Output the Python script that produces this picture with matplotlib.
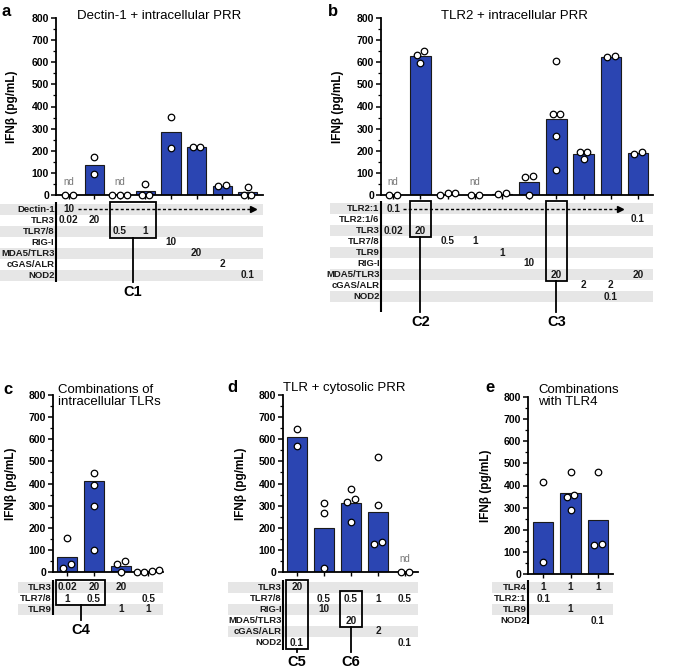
import numpy as np
import matplotlib
matplotlib.use("Agg")
import matplotlib.pyplot as plt
from matplotlib.patches import Rectangle
from matplotlib.transforms import blended_transform_factory

# ---------------- data ----------------
# Panel a: Dectin-1 + intracellular PRR
a_rows = ["Dectin-1", "TLR3", "TLR7/8", "RIG-I", "MDA5/TLR3", "cGAS/ALR", "NOD2"]
a_table = [
    ["10", "", "", "", "", "", "", ""],
    ["0.02", "20", "", "", "", "", "", ""],
    ["", "", "0.5", "1", "", "", "", ""],
    ["", "", "", "", "10", "", "", ""],
    ["", "", "", "", "", "20", "", ""],
    ["", "", "", "", "", "", "2", ""],
    ["", "", "", "", "", "", "", "0.1"],
]
a_bars = [0, 136, 0, 16, 283, 218, 42, 12]
a_points = [[0, 0], [170, 95], [0, 0, 0], [48, 0, 0], [354, 211], [218, 218], [41, 45], [35, 0, 0]]
a_nd = [True, False, True, False, False, False, False, False]

# Panel b: TLR2 + intracellular PRR
b_rows = ["TLR2:1", "TLR2:1/6", "TLR3", "TLR7/8", "TLR9", "RIG-I", "MDA5/TLR3", "cGAS/ALR", "NOD2"]
b_table = [
    ["0.1", "", "", "", "", "", "", "", "", ""],
    ["", "", "", "", "", "", "", "", "", "0.1"],
    ["0.02", "20", "", "", "", "", "", "", "", ""],
    ["", "", "0.5", "1", "", "", "", "", "", ""],
    ["", "", "", "", "1", "", "", "", "", ""],
    ["", "", "", "", "", "10", "", "", "", ""],
    ["", "", "", "", "", "", "20", "", "", "20"],
    ["", "", "", "", "", "", "", "2", "2", ""],
    ["", "", "", "", "", "", "", "", "0.1", ""],
]
b_bars = [0, 627, 5, 0, 5, 57, 343, 184, 625, 188]
b_points = [[0, 0], [652, 632, 598], [7, 0, 9], [0, 0], [3, 8], [87, 83, 0],
            [604, 364, 367, 265, 113], [196, 196, 161], [622, 628], [184, 193]]
b_nd = [True, False, False, True, False, False, False, False, False, False]

# Panel c: Combinations of intracellular TLRs
c_rows = ["TLR3", "TLR7/8", "TLR9"]
c_table = [
    ["0.02", "20", "20", ""],
    ["1", "0.5", "", "0.5"],
    ["", "", "1", "1"],
]
c_bars = [69, 410, 29, 4]
c_points = [[152, 20, 36], [448, 395, 298, 99], [50, 36, 0], [5, 0, 2, 8]]
c_nd = [False, False, False, False]

# Panel d: TLR + cytosolic PRR
d_rows = ["TLR3", "TLR7/8", "RIG-I", "MDA5/TLR3", "cGAS/ALR", "NOD2"]
d_table = [
    ["20", "", "", "", ""],
    ["", "0.5", "0.5", "1", "0.5"],
    ["", "10", "", "", ""],
    ["", "", "20", "", ""],
    ["", "", "", "2", ""],
    ["0.1", "", "", "", "0.1"],
]
d_bars = [610, 200, 311, 271, 0]
d_points = [[648, 570], [314, 265, 17], [373, 329, 317, 227], [520, 305, 125, 134], [0, 0]]
d_nd = [False, False, False, False, True]

# Panel e: Combinations with TLR4
e_rows = ["TLR4", "TLR2:1", "TLR9", "NOD2"]
e_table = [
    ["1", "1", "1"],
    ["0.1", "", ""],
    ["", "1", ""],
    ["", "", "0.1"],
]
e_bars = [237, 365, 242]
e_points = [[417, 53], [459, 357, 347, 290], [459, 129, 135]]
e_nd = [False, False, False]

yticks = [0, 100, 200, 300, 400, 500, 600, 700, 800]

# ---------------- style ----------------
W, H = 691, 670
BLUE = "#2B45B2"
SHADE = "#E6E6E6"
NARROW = ["Liberation Sans Narrow", "Liberation Sans", "DejaVu Sans"]
SANS = ["Liberation Sans", "DejaVu Sans"]

fig = plt.figure(figsize=(W / 100, H / 100), dpi=100)


def px_axes(x0, x1, ytop, ybot):
    return fig.add_axes([x0 / W, 1 - ybot / H, (x1 - x0) / W, (ybot - ytop) / H])


def swarm_offsets(vals, px_per_unit, col_px, diam=6.5, step_px=7.5):
    vals = np.asarray(vals, dtype=float)
    order = np.argsort(vals)
    offs = np.zeros(len(vals))
    clusters = []
    cur = [order[0]]
    for i in order[1:]:
        if abs(vals[i] - vals[cur[-1]]) * px_per_unit < diam:
            cur.append(i)
        else:
            clusters.append(cur)
            cur = [i]
    clusters.append(cur)
    for cl in clusters:
        k = len(cl)
        for j, idx in enumerate(cl):
            offs[idx] = (j - (k - 1) / 2) * step_px / col_px
    return offs


def panel(cfg, bars, points, nd, rows, table):
    x0, x1, ytop, ybot = cfg["ax"]
    ax = px_axes(x0, x1, ytop, ybot)
    ncol = len(bars)
    xs = np.arange(ncol)
    ax.set_xlim(*cfg["xlim"])
    ax.set_ylim(0, 800)
    ax.bar(xs, bars, width=0.75, color=BLUE, edgecolor="#1a1a1a", linewidth=0.8, zorder=2)
    col_px = (x1 - x0) / (cfg["xlim"][1] - cfg["xlim"][0])
    ppu = (ybot - ytop) / 800
    for i, pts in enumerate(points):
        offs = swarm_offsets(pts, ppu, col_px)
        ax.scatter(xs[i] + offs, pts, s=22, facecolor="white", edgecolor="black",
                   linewidth=0.9, zorder=4, clip_on=False)
        if nd[i]:
            ax.text(xs[i], 58, "nd", ha="center", va="center", fontsize=7,
                    color="#777777", family=NARROW)
    for s in ["top", "right"]:
        ax.spines[s].set_visible(False)
    ax.spines["left"].set_linewidth(1.3)
    ax.spines["bottom"].set_linewidth(1.3)
    ax.set_yticks(yticks)
    ax.set_yticks(np.arange(50, 800, 100), minor=True)
    ax.set_yticklabels([str(t) for t in yticks], fontsize=7.5, fontweight="bold",
                       family=NARROW)
    ax.tick_params(axis="y", which="major", length=3.5, width=1.1, pad=1.5)
    ax.tick_params(axis="y", which="minor", length=2, width=0.9)
    ax.set_xticks(xs)
    ax.set_xticklabels([])
    ax.tick_params(axis="x", length=3, width=1.0)
    ax.set_ylabel("IFNβ (pg/mL)", fontsize=8.5, fontweight="bold", family=SANS)
    ax.yaxis.set_label_coords((cfg["ylab_x"] - x0) / (x1 - x0), 0.5)

    # table axes
    nrow = len(rows)
    rh = 11
    ttop = cfg["ttop"]
    tax = px_axes(x0, x1, ttop, ttop + nrow * rh)
    tax.set_xlim(*cfg["xlim"])
    tax.set_ylim(nrow, 0)
    tax.axis("off")
    shade_left = (cfg["shade_left"] - x0) / (x1 - x0)
    bt = blended_transform_factory(tax.transAxes, tax.transData)
    for r, lab in enumerate(rows):
        if r % 2 == 0:
            tax.add_patch(Rectangle((shade_left, r), 1 - shade_left, 1, transform=bt,
                                    facecolor=SHADE, edgecolor="none", clip_on=False, zorder=0))
        tax.text(-1.5 / (x1 - x0), r + 0.5, lab, transform=bt, ha="right", va="center",
                 fontsize=6.8, fontweight="bold", family=NARROW, color="#1a1a1a")
        for c, v in enumerate(table[r]):
            if v:
                tax.text(c, r + 0.5, v, ha="center", va="center", fontsize=7.2,
                         fontweight="bold", family=NARROW, color="#1a1a1a", zorder=3)
    tax.plot([0, 0], [-0.15, cfg["vline_bot"]], transform=bt, color="black", lw=1.5,
             clip_on=False, solid_capstyle="butt")
    if "arrow" in cfg:
        r, xa, xb = cfg["arrow"]
        tax.plot([xa, xb], [r + 0.5, r + 0.5], color="black", lw=1.0, ls=(0, (2.2, 1.6)),
                 clip_on=False, zorder=3)
        tax.plot([xb], [r + 0.5], marker=">", color="black", ms=4.5, clip_on=False, zorder=3)
    for (label, c0, c1, r0, r1, lbot, ltext) in cfg.get("boxes", []):
        tax.add_patch(Rectangle((c0 - 0.4, r0 - 0.2), (c1 - c0) + 0.8, (r1 - r0) + 1.25,
                                facecolor="none", edgecolor="black", lw=1.3,
                                clip_on=False, zorder=4))
        xc = (c0 + c1) / 2
        tax.plot([xc, xc], [r1 + 1.05, lbot], color="black", lw=1.3, clip_on=False)
        tax.text(xc, ltext, label, ha="center", va="top", fontsize=10.5,
                 fontweight="bold", family=SANS, clip_on=False)
    return ax


cfg_a = dict(ax=(56, 263, 18, 195), xlim=(-0.5, 7.6), ylab_x=18, ttop=204, shade_left=0,
             vline_bot=7.1, arrow=(0, 0.35, 7.2),
             boxes=[("C1", 2, 3, 0, 2, 7.1, 7.4)])
cfg_b = dict(ax=(381, 653, 18, 195), xlim=(-0.45, 9.55), ylab_x=344, ttop=203, shade_left=330,
             vline_bot=9.9, arrow=(0, 0.37, 8.35),
             boxes=[("C2", 1, 1, 0, 2, 9.9, 10.2), ("C3", 6, 6, 0, 6, 9.9, 10.2)])
cfg_c = dict(ax=(53, 163, 395, 572), xlim=(-0.52, 3.55), ylab_x=17, ttop=582, shade_left=18,
             vline_bot=3.0, boxes=[("C4", 0, 1, 0, 1, 3.45, 3.75)])
cfg_d = dict(ax=(283, 418, 395, 572), xlim=(-0.52, 4.48), ylab_x=247, ttop=582, shade_left=228,
             vline_bot=6.2, boxes=[("C5", 0, 0, 0, 5, 6.36, 6.6), ("C6", 2, 2, 1, 3, 6.36, 6.6)])
cfg_e = dict(ax=(528, 613, 397, 574), xlim=(-0.55, 2.55), ylab_x=492, ttop=582, shade_left=492,
             vline_bot=3.8)

panel(cfg_a, a_bars, a_points, a_nd, a_rows, a_table)
panel(cfg_b, b_bars, b_points, b_nd, b_rows, b_table)
panel(cfg_c, c_bars, c_points, c_nd, c_rows, c_table)
panel(cfg_d, d_bars, d_points, d_nd, d_rows, d_table)
panel(cfg_e, e_bars, e_points, e_nd, e_rows, e_table)


def ftext(x, y, s, **kw):
    fig.text(x / W, 1 - y / H, s, **kw)


# panel letters
for (x, y, s) in [(2, 11, "a"), (328, 11, "b"), (3, 390, "c"), (227, 388, "d"), (485, 388, "e")]:
    ftext(x, y, s, fontsize=12, fontweight="bold", family=SANS, va="center", ha="left")

# titles
ftext(159, 16, "Dectin-1 + intracellular PRR", fontsize=9.5, family=SANS, ha="center", va="center")
ftext(514, 16, "TLR2 + intracellular PRR", fontsize=9.5, family=SANS, ha="center", va="center")
ftext(58, 396, "Combinations of\nintracellular TLRs", fontsize=9.5, family=SANS, ha="left",
      va="center", linespacing=1.05)
ftext(283, 388, "TLR + cytosolic PRR", fontsize=9.5, family=SANS, ha="left", va="center")
ftext(538, 396, "Combinations\nwith TLR4", fontsize=9.5, family=SANS, ha="left", va="center",
      linespacing=1.05)

fig.savefig("out.png", dpi=100)
